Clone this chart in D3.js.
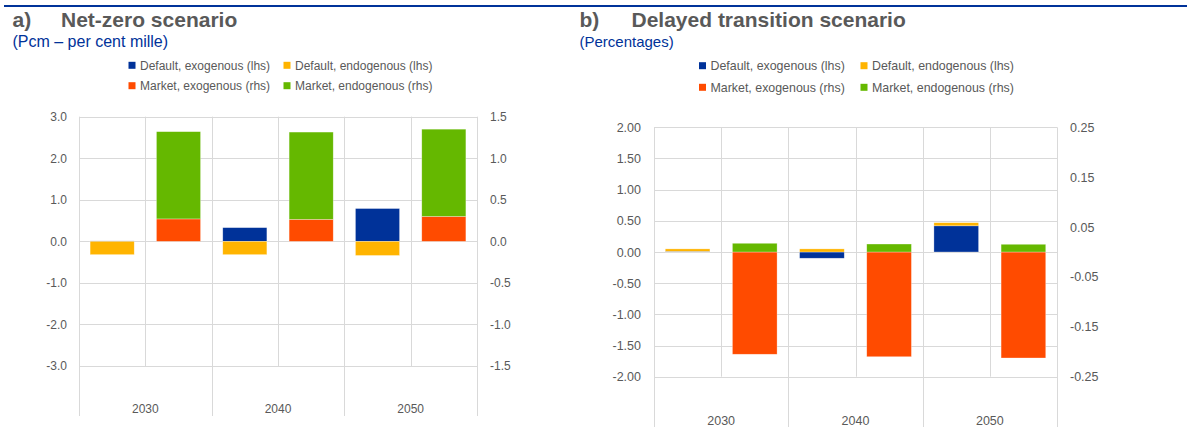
<!DOCTYPE html>
<html>
<head>
<meta charset="utf-8">
<script src="https://cdn.jsdelivr.net/npm/d3@7"></script>
<style>
body { margin: 0; background: #fff; }
svg { display: block; }
text { font-family: "Liberation Sans", Arial, sans-serif; }
</style>
</head>
<body>
<svg id="chart" width="1194" height="427"></svg>
<script>
var years = ['2030', '2040', '2050'];
var groups = ['Default', 'Market'];
var seriesNames = ['Default, exogenous (lhs)', 'Default, endogenous (lhs)',
                   'Market, exogenous (rhs)', 'Market, endogenous (rhs)'];
var seriesColors = ['#003299', '#ffb400', '#ff4b00', '#65b800'];

// a) net-zero scenario, pcm
var nzDefaultExo  = [0.01, 0.33, 0.79];
var nzDefaultEndo = [-0.32, -0.32, -0.34];
var nzMarketExo   = [0.27, 0.265, 0.30];
var nzMarketEndo  = [1.05, 1.05, 1.05];
var nzLeftTicks  = [3, 2, 1, 0, -1, -2, -3];
var nzRightTicks = [1.5, 1, 0.5, 0, -0.5, -1, -1.5];

// b) delayed transition scenario, percentages
var dtDefaultExo  = [0.01, -0.10, 0.42];
var dtDefaultEndo = [0.04, 0.05, 0.05];
var dtMarketExo   = [-0.205, -0.21, -0.2125];
var dtMarketEndo  = [0.0175, 0.016, 0.0155];
var dtLeftTicks  = [2, 1.5, 1, 0.5, 0, -0.5, -1, -1.5, -2];
var dtRightTicks = [0.25, 0.15, 0.05, -0.05, -0.15, -0.25];

var svg = d3.select('#chart');
var grey = '#595959', gridCol = '#d9d9d9', blue = '#003299';

// excel style: plain hyphen for negatives
function fmt(spec) {
    var f = d3.format(spec);
    return function(d) { return f(d).replace('\u2212', '-'); };
}

// top rule
svg.append('rect').attr('x', 4).attr('y', 5).attr('width', 1183).attr('height', 2).attr('fill', blue);

function panel(c) {
    var g = svg.append('g');

    // titles
    g.append('text').attr('x', c.tx).attr('y', 27).attr('font-size', 21).attr('font-weight', 'bold')
        .attr('fill', grey).text(c.letter);
    g.append('text').attr('x', c.tx2).attr('y', 27).attr('font-size', 21).attr('font-weight', 'bold')
        .attr('fill', grey).text(c.title);
    g.append('text').attr('x', c.tx).attr('y', 47).attr('font-size', c.subSize)
        .attr('fill', blue).text(c.sub);

    // legend
    seriesNames.forEach(function(name, i) {
        var lx = c.legX[i % 2], ly = c.legY[Math.floor(i / 2)];
        g.append('rect').attr('x', lx).attr('y', ly - 3.5).attr('width', 7).attr('height', 7)
            .attr('fill', seriesColors[i]);
        g.append('text').attr('x', lx + 11.5).attr('y', ly).attr('dy', '0.35em')
            .attr('font-size', c.legSize).attr('fill', grey).text(name);
    });

    var x = d3.scaleBand().domain(years).range([c.x0, c.x1]);
    var xi = d3.scaleBand().domain(groups).range([0, x.bandwidth()])
        .paddingInner(0.335).paddingOuter(0.1675);
    var yL = d3.scaleLinear().domain(c.leftDomain).range([c.yBot, c.yTop]);
    var yR = d3.scaleLinear().domain(c.rightDomain).range([c.yBot, c.yTop]);

    // gridlines
    g.selectAll('.hgrid').data(c.leftTicks).enter().append('line')
        .attr('x1', c.x0).attr('x2', c.x1)
        .attr('y1', function(d) { return Math.round(yL(d)) + 0.5; })
        .attr('y2', function(d) { return Math.round(yL(d)) + 0.5; })
        .attr('stroke', gridCol);
    var bounds = years.map(function(y) { return x(y); }).concat([c.x1]);
    g.selectAll('.vgrid').data(bounds).enter().append('line')
        .attr('x1', function(d) { return Math.round(d) + 0.5; })
        .attr('x2', function(d) { return Math.round(d) + 0.5; })
        .attr('y1', c.yTop).attr('y2', c.axisBottom).attr('stroke', gridCol);
    g.selectAll('.mgrid').data(years).enter().append('line')
        .attr('x1', function(d) { return Math.round(x(d) + x.bandwidth() / 2) + 0.5; })
        .attr('x2', function(d) { return Math.round(x(d) + x.bandwidth() / 2) + 0.5; })
        .attr('y1', c.yTop).attr('y2', c.yBot).attr('stroke', gridCol);

    // bars
    var stack = d3.stack().keys([0, 1]).offset(d3.stackOffsetDiverging);
    groups.forEach(function(grp, gi) {
        var vals = c.data[grp];
        var rows = years.map(function(y, i) { return [vals[0][i], vals[1][i]]; });
        var yS = gi === 0 ? yL : yR;
        stack(rows).forEach(function(layer, li) {
            g.selectAll('.bar' + gi + li).data(layer).enter().append('rect')
                .attr('x', function(d, i) { return x(years[i]) + xi(grp); })
                .attr('width', xi.bandwidth())
                .attr('y', function(d) { return yS(d[1]); })
                .attr('height', function(d) { return Math.abs(yS(d[0]) - yS(d[1])); })
                .attr('fill', seriesColors[gi * 2 + li])
                .attr('stroke', '#fff').attr('stroke-opacity', 0.5).attr('stroke-width', 0.6);
        });
    });

    // axes
    var la = g.append('g').attr('transform', 'translate(' + c.leftLabelX + ',0)')
        .call(d3.axisLeft(yL).tickValues(c.leftTicks).tickFormat(fmt(c.leftFmt))
            .tickSize(0).tickPadding(0));
    var ra = g.append('g').attr('transform', 'translate(' + c.rightLabelX + ',0)')
        .call(d3.axisRight(yR).tickValues(c.rightTicks).tickFormat(fmt(c.rightFmt))
            .tickSize(0).tickPadding(0));
    var ba = g.append('g').attr('transform', 'translate(0,' + c.labelY + ')')
        .call(d3.axisBottom(x).tickSize(0).tickPadding(0));
    [la, ra, ba].forEach(function(a) {
        a.select('.domain').remove();
        a.selectAll('text').attr('fill', grey).attr('font-size', c.tickSize)
            .attr('font-family', '"Liberation Sans", Arial, sans-serif');
    });
    ba.selectAll('text').attr('dy', 0).attr('y', 0);
}

panel({
    letter: 'a)', title: 'Net-zero scenario', sub: '(Pcm \u2013 per cent mille)',
    tx: 12.5, tx2: 61, subSize: 16,
    legX: [128.5, 283.5], legY: [65.3, 85.7], legSize: 12,
    x0: 79, x1: 477, yTop: 116.7, yBot: 366, axisBottom: 416, labelY: 413,
    leftDomain: [-3, 3], rightDomain: [-1.5, 1.5],
    leftTicks: nzLeftTicks, rightTicks: nzRightTicks, leftFmt: '.1f', rightFmt: '.1f',
    leftLabelX: 67, rightLabelX: 490, tickSize: 12,
    data: { Default: [nzDefaultExo, nzDefaultEndo], Market: [nzMarketExo, nzMarketEndo] }
});

panel({
    letter: 'b)', title: 'Delayed transition scenario', sub: '(Percentages)',
    tx: 579.5, tx2: 631.5, subSize: 15,
    legX: [699, 860.5], legY: [65.7, 87.3], legSize: 12.4,
    x0: 654, x1: 1057, yTop: 127.3, yBot: 376.7, axisBottom: 427, labelY: 425,
    leftDomain: [-2, 2], rightDomain: [-0.25, 0.25],
    leftTicks: dtLeftTicks, rightTicks: dtRightTicks, leftFmt: '.2f', rightFmt: '.2f',
    leftLabelX: 641, rightLabelX: 1070, tickSize: 12.5,
    data: { Default: [dtDefaultExo, dtDefaultEndo], Market: [dtMarketExo, dtMarketEndo] }
});
</script>
</body>
</html>
